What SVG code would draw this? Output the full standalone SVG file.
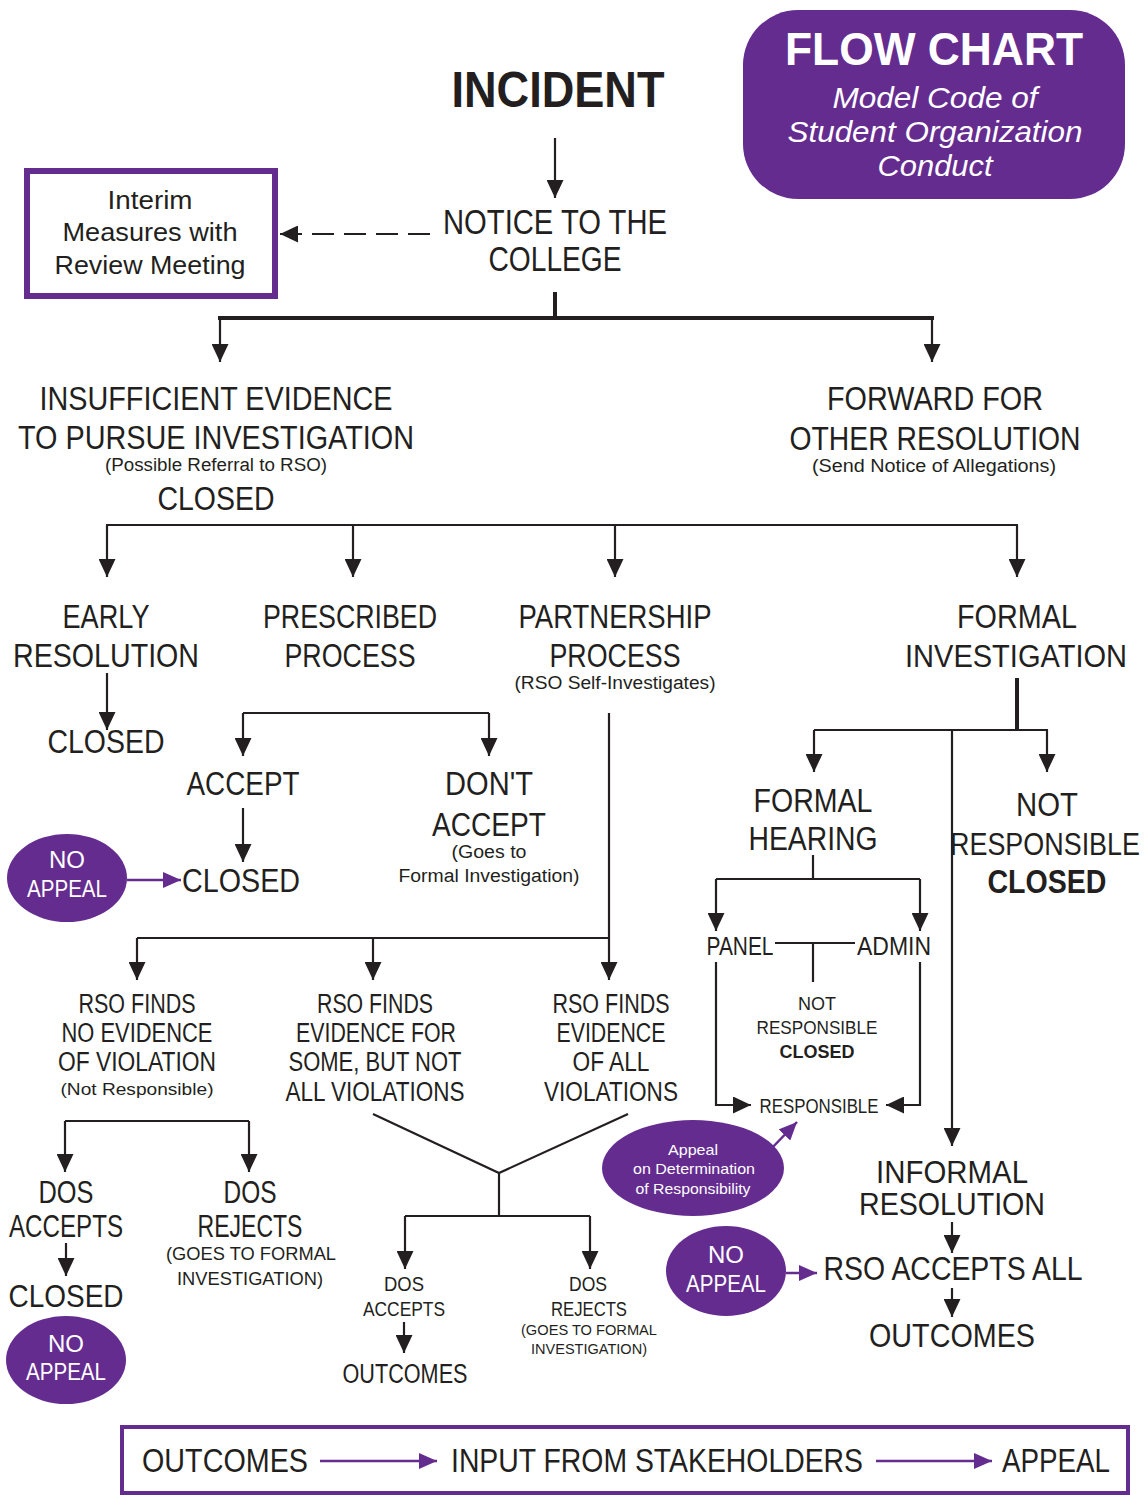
<svg xmlns="http://www.w3.org/2000/svg" width="1148" height="1495" viewBox="0 0 1148 1495">
<defs>
<marker id="ah" viewBox="0 0 18 17" refX="18" refY="8.5" markerWidth="18" markerHeight="17" markerUnits="userSpaceOnUse" orient="auto"><path d="M0,0 L18,8.5 L0,17 z" fill="#231f20"/></marker>
<marker id="ap" viewBox="0 0 18 16" refX="18" refY="8" markerWidth="18" markerHeight="16" markerUnits="userSpaceOnUse" orient="auto"><path d="M0,0 L18,8 L0,16 z" fill="#652c90"/></marker>
<style>
text{font-family:"Liberation Sans",Arial,sans-serif;fill:#231f20;text-anchor:middle}
.w{fill:#fff}
.b{font-weight:bold}
.it{font-style:italic}
.s34{font-size:34px}.s32{font-size:32px}.s27{font-size:27px}.s18{font-size:18px}.s25{font-size:25px}.s31{font-size:31px}.s21{font-size:21px}.s15{font-size:15px}.s19{font-size:19px}.s24{font-size:24px}
.ln{stroke:#231f20;stroke-width:2.2;fill:none}
.th{stroke:#231f20;stroke-width:4;fill:none}
.pl{stroke:#652c90;stroke-width:2.5;fill:none}
.pf{fill:#652c90}
</style>
</defs>
<rect width="1148" height="1495" fill="#fff"/>

<g id="connectors">
<path class="ln" d="M555,138 V198" marker-end="url(#ah)"/>
<path class="ln" d="M430,234 H280" stroke-dasharray="22 10" marker-end="url(#ah)"/>
<path class="th" d="M555,292 V318"/>
<path class="th" d="M218,318 H934"/>
<path class="ln" d="M220,318 V362" marker-end="url(#ah)"/>
<path class="ln" d="M932,318 V362" marker-end="url(#ah)"/>
<path class="ln" d="M106,525 H1018"/>
<path class="ln" d="M107,525 V577" marker-end="url(#ah)"/>
<path class="ln" d="M353,525 V577" marker-end="url(#ah)"/>
<path class="ln" d="M615,525 V577" marker-end="url(#ah)"/>
<path class="ln" d="M1017,525 V577" marker-end="url(#ah)"/>
<path class="ln" d="M107,673 V730" marker-end="url(#ah)"/>
<path class="ln" d="M243,713 H489"/>
<path class="ln" d="M243,713 V756" marker-end="url(#ah)"/>
<path class="ln" d="M489,713 V756" marker-end="url(#ah)"/>
<path class="ln" d="M243,808 V862" marker-end="url(#ah)"/>
<path class="pl" d="M127,880 H181" marker-end="url(#ap)"/>
<path class="ln" d="M609,713 V980" marker-end="url(#ah)"/>
<path class="ln" d="M137,938 H609"/>
<path class="ln" d="M137,938 V980" marker-end="url(#ah)"/>
<path class="ln" d="M373,938 V980" marker-end="url(#ah)"/>
<path class="ln" d="M65,1121 H249"/>
<path class="ln" d="M65,1121 V1172" marker-end="url(#ah)"/>
<path class="ln" d="M249,1121 V1172" marker-end="url(#ah)"/>
<path class="ln" d="M66,1243 V1276" marker-end="url(#ah)"/>
<path class="ln" d="M373,1114 L499,1173 L628,1114" stroke-width="1.6"/>
<path class="ln" d="M499,1173 V1216"/>
<path class="ln" d="M405,1216 H590"/>
<path class="ln" d="M405,1216 V1269" marker-end="url(#ah)"/>
<path class="ln" d="M590,1216 V1269" marker-end="url(#ah)"/>
<path class="ln" d="M404,1322 V1353" marker-end="url(#ah)"/>
<path class="th" d="M1017,678 V730"/>
<path class="ln" d="M814,730 H1048"/>
<path class="ln" d="M814,730 V772" marker-end="url(#ah)"/>
<path class="ln" d="M1047,730 V772" marker-end="url(#ah)"/>
<path class="ln" d="M952,730 V1146" marker-end="url(#ah)"/>
<path class="ln" d="M813,855 V879"/>
<path class="ln" d="M716,879 H920"/>
<path class="ln" d="M716,879 V931" marker-end="url(#ah)"/>
<path class="ln" d="M920,879 V931" marker-end="url(#ah)"/>
<path class="ln" d="M775,943 H855"/>
<path class="ln" d="M813,943 V982"/>
<path class="ln" d="M716,962 V1105 H751" marker-end="url(#ah)"/>
<path class="ln" d="M920,962 V1105 H886" marker-end="url(#ah)"/>
<path class="pl" d="M770,1150 L797,1122" marker-end="url(#ap)"/>
<path class="ln" d="M952,1222 V1253" marker-end="url(#ah)"/>
<path class="ln" d="M952,1288 V1317" marker-end="url(#ah)"/>
<path class="pl" d="M786,1273 H817" marker-end="url(#ap)"/>
<path class="pl" d="M320,1461 H437" marker-end="url(#ap)"/>
<path class="pl" d="M876,1461 H992" marker-end="url(#ap)"/>
</g>

<g id="title">
<rect x="743" y="10" width="382" height="189" rx="55" class="pf"/>
<text x="934" y="65" class="w b" font-size="46" textLength="298" lengthAdjust="spacingAndGlyphs">FLOW CHART</text>
<text x="935" y="108" class="w it" font-size="30" textLength="205" lengthAdjust="spacingAndGlyphs">Model Code of</text>
<text x="935" y="142" class="w it" font-size="30" textLength="295" lengthAdjust="spacingAndGlyphs">Student Organization</text>
<text x="935" y="176" class="w it" font-size="30" textLength="115" lengthAdjust="spacingAndGlyphs">Conduct</text>
</g>

<g id="incident"><text x="558" y="107" class="b" font-size="50" textLength="213" lengthAdjust="spacingAndGlyphs">INCIDENT</text></g>

<g id="notice">
<text x="555" y="234" font-size="35" textLength="224" lengthAdjust="spacingAndGlyphs">NOTICE TO THE</text>
<text x="555" y="271" font-size="35" textLength="133" lengthAdjust="spacingAndGlyphs">COLLEGE</text>
</g>

<g id="interim">
<rect x="27" y="171" width="248" height="125" fill="#fff" stroke="#652c90" stroke-width="6"/>
<text x="150" y="209" class="s25" textLength="85" lengthAdjust="spacingAndGlyphs">Interim</text>
<text x="150" y="241" class="s25" textLength="175" lengthAdjust="spacingAndGlyphs">Measures with</text>
<text x="150" y="274" class="s25" textLength="191" lengthAdjust="spacingAndGlyphs">Review Meeting</text>
</g>

<g id="insufficient">
<text x="216" y="410" class="s34" textLength="353" lengthAdjust="spacingAndGlyphs">INSUFFICIENT EVIDENCE</text>
<text x="216" y="449" class="s34" textLength="396" lengthAdjust="spacingAndGlyphs">TO PURSUE INVESTIGATION</text>
<text x="216" y="471" class="s18" textLength="222" lengthAdjust="spacingAndGlyphs">(Possible Referral to RSO)</text>
<text x="216" y="510" class="s34" textLength="117" lengthAdjust="spacingAndGlyphs">CLOSED</text>
</g>

<g id="forward">
<text x="935" y="410" class="s34" textLength="216" lengthAdjust="spacingAndGlyphs">FORWARD FOR</text>
<text x="935" y="450" class="s34" textLength="291" lengthAdjust="spacingAndGlyphs">OTHER RESOLUTION</text>
<text x="934" y="472" class="s18" textLength="244" lengthAdjust="spacingAndGlyphs">(Send Notice of Allegations)</text>
</g>

<g id="early">
<text x="106" y="628" class="s34" textLength="87" lengthAdjust="spacingAndGlyphs">EARLY</text>
<text x="106" y="667" class="s34" textLength="186" lengthAdjust="spacingAndGlyphs">RESOLUTION</text>
</g>
<g id="early-closed"><text x="106" y="753" class="s34" textLength="117" lengthAdjust="spacingAndGlyphs">CLOSED</text></g>

<g id="prescribed">
<text x="350" y="628" class="s34" textLength="174" lengthAdjust="spacingAndGlyphs">PRESCRIBED</text>
<text x="350" y="667" class="s34" textLength="131" lengthAdjust="spacingAndGlyphs">PROCESS</text>
</g>

<g id="partnership">
<text x="615" y="628" class="s34" textLength="193" lengthAdjust="spacingAndGlyphs">PARTNERSHIP</text>
<text x="615" y="667" class="s34" textLength="131" lengthAdjust="spacingAndGlyphs">PROCESS</text>
<text x="615" y="689" class="s18" textLength="201" lengthAdjust="spacingAndGlyphs">(RSO Self-Investigates)</text>
</g>

<g id="formal-investigation">
<text x="1017" y="628" class="s34" textLength="120" lengthAdjust="spacingAndGlyphs">FORMAL</text>
<text x="1016" y="667" class="s32" textLength="222" lengthAdjust="spacingAndGlyphs">INVESTIGATION</text>
</g>

<g id="accept"><text x="243" y="795" class="s34" textLength="113" lengthAdjust="spacingAndGlyphs">ACCEPT</text></g>
<g id="accept-closed"><text x="241" y="892" class="s34" textLength="118" lengthAdjust="spacingAndGlyphs">CLOSED</text></g>
<g id="no-appeal-1">
<ellipse cx="67" cy="878" rx="60" ry="44" class="pf"/>
<text x="67" y="868" class="w s24" textLength="36" lengthAdjust="spacingAndGlyphs">NO</text>
<text x="67" y="897" class="w s24" textLength="80" lengthAdjust="spacingAndGlyphs">APPEAL</text>
</g>

<g id="dont-accept">
<text x="489" y="795" class="s34" textLength="88" lengthAdjust="spacingAndGlyphs">DON'T</text>
<text x="489" y="836" class="s34" textLength="114" lengthAdjust="spacingAndGlyphs">ACCEPT</text>
<text x="489" y="858" class="s18" textLength="75" lengthAdjust="spacingAndGlyphs">(Goes to</text>
<text x="489" y="882" class="s18" textLength="181" lengthAdjust="spacingAndGlyphs">Formal Investigation)</text>
</g>

<g id="rso-no-evidence">
<text x="137" y="1013" class="s27" textLength="117" lengthAdjust="spacingAndGlyphs">RSO FINDS</text>
<text x="137" y="1042" class="s27" textLength="151" lengthAdjust="spacingAndGlyphs">NO EVIDENCE</text>
<text x="137" y="1071" class="s27" textLength="158" lengthAdjust="spacingAndGlyphs">OF VIOLATION</text>
<text x="137" y="1095" font-size="17" textLength="153" lengthAdjust="spacingAndGlyphs">(Not Responsible)</text>
</g>

<g id="rso-some">
<text x="375" y="1013" class="s27" textLength="116" lengthAdjust="spacingAndGlyphs">RSO FINDS</text>
<text x="376" y="1042" class="s27" textLength="160" lengthAdjust="spacingAndGlyphs">EVIDENCE FOR</text>
<text x="375" y="1071" class="s27" textLength="173" lengthAdjust="spacingAndGlyphs">SOME, BUT NOT</text>
<text x="375" y="1101" class="s27" textLength="179" lengthAdjust="spacingAndGlyphs">ALL VIOLATIONS</text>
</g>

<g id="rso-all">
<text x="611" y="1013" class="s27" textLength="117" lengthAdjust="spacingAndGlyphs">RSO FINDS</text>
<text x="611" y="1042" class="s27" textLength="109" lengthAdjust="spacingAndGlyphs">EVIDENCE</text>
<text x="611" y="1071" class="s27" textLength="77" lengthAdjust="spacingAndGlyphs">OF ALL</text>
<text x="611" y="1101" class="s27" textLength="134" lengthAdjust="spacingAndGlyphs">VIOLATIONS</text>
</g>

<g id="dos-accepts-1">
<text x="66" y="1203" class="s31" textLength="55" lengthAdjust="spacingAndGlyphs">DOS</text>
<text x="66" y="1237" class="s31" textLength="114" lengthAdjust="spacingAndGlyphs">ACCEPTS</text>
</g>
<g id="dos-closed"><text x="66" y="1307" class="s31" textLength="115" lengthAdjust="spacingAndGlyphs">CLOSED</text></g>
<g id="no-appeal-2">
<ellipse cx="66" cy="1360" rx="60" ry="44" class="pf"/>
<text x="66" y="1352" class="w s24" textLength="36" lengthAdjust="spacingAndGlyphs">NO</text>
<text x="66" y="1380" class="w s24" textLength="80" lengthAdjust="spacingAndGlyphs">APPEAL</text>
</g>

<g id="dos-rejects-1">
<text x="250" y="1203" class="s31" textLength="53" lengthAdjust="spacingAndGlyphs">DOS</text>
<text x="250" y="1237" class="s31" textLength="105" lengthAdjust="spacingAndGlyphs">REJECTS</text>
<text x="251" y="1260" class="s19" textLength="170" lengthAdjust="spacingAndGlyphs">(GOES TO FORMAL</text>
<text x="250" y="1285" class="s19" textLength="146" lengthAdjust="spacingAndGlyphs">INVESTIGATION)</text>
</g>

<g id="dos-accepts-2">
<text x="404" y="1291" class="s21" textLength="40" lengthAdjust="spacingAndGlyphs">DOS</text>
<text x="404" y="1316" class="s21" textLength="82" lengthAdjust="spacingAndGlyphs">ACCEPTS</text>
</g>
<g id="outcomes-1"><text x="405" y="1383" class="s27" textLength="125" lengthAdjust="spacingAndGlyphs">OUTCOMES</text></g>

<g id="dos-rejects-2">
<text x="588" y="1291" class="s21" textLength="38" lengthAdjust="spacingAndGlyphs">DOS</text>
<text x="589" y="1316" class="s21" textLength="76" lengthAdjust="spacingAndGlyphs">REJECTS</text>
<text x="589" y="1335" class="s15" textLength="136" lengthAdjust="spacingAndGlyphs">(GOES TO FORMAL</text>
<text x="589" y="1354" class="s15" textLength="116" lengthAdjust="spacingAndGlyphs">INVESTIGATION)</text>
</g>

<g id="formal-hearing">
<text x="813" y="812" class="s34" textLength="119" lengthAdjust="spacingAndGlyphs">FORMAL</text>
<text x="813" y="850" class="s34" textLength="129" lengthAdjust="spacingAndGlyphs">HEARING</text>
</g>

<g id="not-responsible-1">
<text x="1047" y="816" class="s34" textLength="62" lengthAdjust="spacingAndGlyphs">NOT</text>
<text x="1045" y="855" class="s32" textLength="190" lengthAdjust="spacingAndGlyphs">RESPONSIBLE</text>
<text x="1047" y="893" class="s34 b" textLength="119" lengthAdjust="spacingAndGlyphs">CLOSED</text>
</g>

<g id="panel"><text x="740" y="955" class="s25" textLength="67" lengthAdjust="spacingAndGlyphs">PANEL</text></g>
<g id="admin"><text x="894" y="955" class="s25" textLength="74" lengthAdjust="spacingAndGlyphs">ADMIN</text></g>

<g id="not-responsible-2">
<text x="817" y="1010" class="s19" textLength="38" lengthAdjust="spacingAndGlyphs">NOT</text>
<text x="817" y="1034" class="s19" textLength="121" lengthAdjust="spacingAndGlyphs">RESPONSIBLE</text>
<text x="817" y="1058" class="s19 b" textLength="75" lengthAdjust="spacingAndGlyphs">CLOSED</text>
</g>

<g id="responsible"><text x="819" y="1113" font-size="20" textLength="119" lengthAdjust="spacingAndGlyphs">RESPONSIBLE</text></g>

<g id="appeal-determination">
<ellipse cx="693" cy="1168" rx="91" ry="48" class="pf"/>
<text x="693" y="1155" class="w s15" textLength="50" lengthAdjust="spacingAndGlyphs">Appeal</text>
<text x="694" y="1174" class="w s15" textLength="122" lengthAdjust="spacingAndGlyphs">on Determination</text>
<text x="693" y="1194" class="w s15" textLength="115" lengthAdjust="spacingAndGlyphs">of Responsibility</text>
</g>

<g id="informal">
<text x="952" y="1183" class="s32" textLength="152" lengthAdjust="spacingAndGlyphs">INFORMAL</text>
<text x="952" y="1215" class="s32" textLength="186" lengthAdjust="spacingAndGlyphs">RESOLUTION</text>
</g>
<g id="rso-accepts-all"><text x="953" y="1280" class="s34" textLength="259" lengthAdjust="spacingAndGlyphs">RSO ACCEPTS ALL</text></g>
<g id="outcomes-2"><text x="952" y="1347" class="s34" textLength="166" lengthAdjust="spacingAndGlyphs">OUTCOMES</text></g>
<g id="no-appeal-3">
<ellipse cx="726" cy="1271" rx="60" ry="45" class="pf"/>
<text x="726" y="1263" class="w s24" textLength="36" lengthAdjust="spacingAndGlyphs">NO</text>
<text x="726" y="1292" class="w s24" textLength="80" lengthAdjust="spacingAndGlyphs">APPEAL</text>
</g>

<g id="legend">
<rect x="122" y="1427" width="1006" height="66" fill="none" stroke="#652c90" stroke-width="4"/>
<text x="225" y="1472" class="s34" textLength="166" lengthAdjust="spacingAndGlyphs">OUTCOMES</text>
<text x="657" y="1472" class="s34" textLength="412" lengthAdjust="spacingAndGlyphs">INPUT FROM STAKEHOLDERS</text>
<text x="1056" y="1472" class="s34" textLength="108" lengthAdjust="spacingAndGlyphs">APPEAL</text>
</g>
</svg>
